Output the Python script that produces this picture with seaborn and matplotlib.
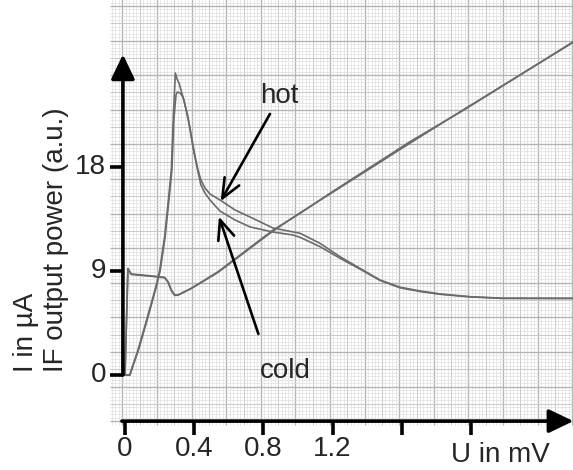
import numpy as np
import pandas as pd
import matplotlib
matplotlib.use("Agg")
import matplotlib.pyplot as plt
import seaborn as sns

# DC current (µA) versus bias voltage (mV), hot and cold load
iv_voltage = [0.0, 0.017, 0.036, 0.152, 0.229, 0.249, 0.268, 0.287, 0.306,
              0.383, 0.461, 0.538, 0.857, 1.012, 1.185, 1.647, 1.975, 2.591]
iv_current_hot = [0.0, 9.25, 8.76, 8.59, 8.47, 8.09, 7.37, 6.94, 6.94,
                  7.52, 8.24, 8.96, 12.58, 14.02, 15.76, 20.23, 23.13, 28.90]
iv_current_cold = [0.0, 9.20, 8.72, 8.56, 8.43, 8.04, 7.30, 6.90, 6.92,
                   7.50, 8.20, 8.90, 12.50, 14.06, 15.70, 20.10, 23.18, 28.85]

# IF output power (a.u.) versus bias voltage (mV), hot load
if_voltage_hot = [0.0, 0.029, 0.036, 0.056, 0.075, 0.114, 0.152, 0.181, 0.201,
                  0.229, 0.249, 0.268, 0.280, 0.291, 0.301, 0.312, 0.345, 0.374,
                  0.403, 0.422, 0.439, 0.462, 0.491, 0.549, 0.636, 0.723, 0.855,
                  1.012, 1.127, 1.243, 1.358, 1.474, 1.590, 1.705, 1.821, 1.994,
                  2.185, 2.590]
if_power_hot = [0.0, 0.0, 0.43, 1.30, 2.17, 4.19, 6.22, 7.81, 9.11,
                11.99, 14.89, 17.78, 22.55, 26.19, 25.67, 25.33, 23.59, 21.51,
                19.08, 17.78, 16.91, 16.22, 15.70, 15.18, 14.31, 13.70, 12.75,
                12.29, 11.42, 10.26, 9.25, 8.24, 7.61, 7.29, 7.03, 6.79,
                6.66, 6.65]

# IF output power (a.u.) versus bias voltage (mV), cold load
if_voltage_cold = [0.0, 0.029, 0.038, 0.058, 0.078, 0.117, 0.155, 0.184, 0.204,
                   0.232, 0.252, 0.271, 0.282, 0.295, 0.302, 0.318, 0.335, 0.364,
                   0.393, 0.422, 0.439, 0.462, 0.491, 0.549, 0.636, 0.723, 0.855,
                   0.971, 1.012, 1.127, 1.243, 1.358, 1.474, 1.590, 1.705, 1.821,
                   1.994, 2.185, 2.590]
if_power_cold = [0.0, 0.0, 0.43, 1.30, 2.17, 4.19, 6.22, 7.81, 9.11,
                 11.99, 14.89, 17.78, 22.10, 24.28, 24.54, 24.46, 24.11, 22.38,
                 19.77, 17.61, 16.48, 15.78, 15.18, 14.22, 13.44, 12.84, 12.40,
                 12.14, 11.94, 11.13, 10.12, 9.19, 8.20, 7.56, 7.24, 7.00,
                 6.77, 6.64, 6.63]

x_ticks = [0.0, 0.4, 0.8, 1.2, 1.6, 2.0]
x_tick_labels = ["0", "0.4", "0.8", "1.2", "", ""]
y_ticks = [0, 9, 18]
y_tick_labels = ["0", "9", "18"]

sns.set_theme(style="white")
plt.rcParams["font.family"] = ["Liberation Sans", "DejaVu Sans"]

fig = plt.figure(figsize=(5.73, 4.70), dpi=100)
ax = fig.add_axes([0, 0, 1, 1])
ax.set_xlim(-0.7225, 2.5896)
ax.set_ylim(-8.24, 32.52)
ax.axis("off")

# graph paper: mm lines, 5 mm lines and cm lines (1 cm = 0.2 mV = 3 units)
gx0, gx1 = -0.087, 2.62
gy0, gy1 = -4.34, 32.6
x_off, y_off = -0.015, 2.0
k = np.arange(-20, 200)
xs = x_off + 0.02 * k
xs = xs[(xs >= gx0) & (xs <= gx1)]
ys = y_off + 0.3 * k
ys = ys[(ys >= gy0) & (ys <= gy1)]
kx = np.round((xs - x_off) / 0.02).astype(int)
ky = np.round((ys - y_off) / 0.3).astype(int)
for sel, col, lw in [((kx % 5) != 0, "#dcdcdc", 0.45),
                     (((kx % 5) == 0) & ((kx % 10) != 0), "#c9c9c9", 0.7),
                     ((kx % 10) == 0, "#b3b3b3", 0.95)]:
    ax.vlines(xs[sel], gy0, gy1, colors=col, lw=lw, zorder=0)
for sel, col, lw in [((ky % 5) != 0, "#dcdcdc", 0.45),
                     (((ky % 5) == 0) & ((ky % 10) != 0), "#c9c9c9", 0.7),
                     ((ky % 10) == 0, "#b3b3b3", 0.95)]:
    ax.hlines(ys[sel], gx0, gx1, colors=col, lw=lw, zorder=0)

# recorded curves
curve_color = "#6b6b6b"
for xv, yv in [(iv_voltage, iv_current_hot), (iv_voltage, iv_current_cold),
               (if_voltage_hot, if_power_hot), (if_voltage_cold, if_power_cold)]:
    sns.lineplot(x=xv, y=yv, ax=ax, color=curve_color, lw=1.2,
                 sort=False, estimator=None, legend=False, zorder=3)

# hand-drawn axes with arrows
axis_lw = 2.6
head = dict(arrowstyle="-|>,head_length=0.75,head_width=0.36",
            lw=axis_lw, color="black", mutation_scale=20,
            shrinkA=0, shrinkB=0)
y_axis_x = -0.012
x_axis_y = -4.0
ax.annotate("", xy=(y_axis_x, 27.8), xytext=(y_axis_x, 0.0),
            arrowprops=head, zorder=5)
ax.annotate("", xy=(2.592, x_axis_y), xytext=(y_axis_x - 0.006, x_axis_y),
            arrowprops=head, zorder=5, annotation_clip=False)

for v, lab in zip(y_ticks, y_tick_labels):
    ax.plot([-0.087, y_axis_x], [v, v], color="black", lw=axis_lw,
            solid_capstyle="butt", zorder=5)
    ax.text(-0.11, v, lab, ha="right", va="center", fontsize=20)
for v, lab in zip(x_ticks, x_tick_labels):
    ax.plot([v, v], [x_axis_y, -5.2], color="black", lw=axis_lw,
            solid_capstyle="butt", zorder=5)
    if lab:
        ax.text(v, -6.42, lab, ha="center", va="center", fontsize=20)

ax.text(2.17, -6.95, "U in mV", ha="center", va="center", fontsize=20)
ax.text(-0.572, 0.26, "I in µA", rotation=90, rotation_mode="anchor",
        ha="left", va="center", fontsize=20)
ax.text(-0.399, 0.26, "IF output power (a.u.)", rotation=90,
        rotation_mode="anchor", ha="left", va="center", fontsize=20)

# labels pointing at the hot and cold curves
pointer = dict(arrowstyle="->,head_length=0.7,head_width=0.3", lw=1.9,
               color="black", mutation_scale=20, shrinkA=0, shrinkB=0)
ax.annotate("", xy=(0.553, 15.07), xytext=(0.838, 22.64), arrowprops=pointer,
            zorder=6)
ax.annotate("", xy=(0.543, 13.73), xytext=(0.771, 3.56), arrowprops=pointer,
            zorder=6)
ax.text(0.89, 24.2, "hot", ha="center", va="center", fontsize=20)
ax.text(0.925, 0.35, "cold", ha="center", va="center", fontsize=20)

fig.savefig("out.png", dpi=100)
